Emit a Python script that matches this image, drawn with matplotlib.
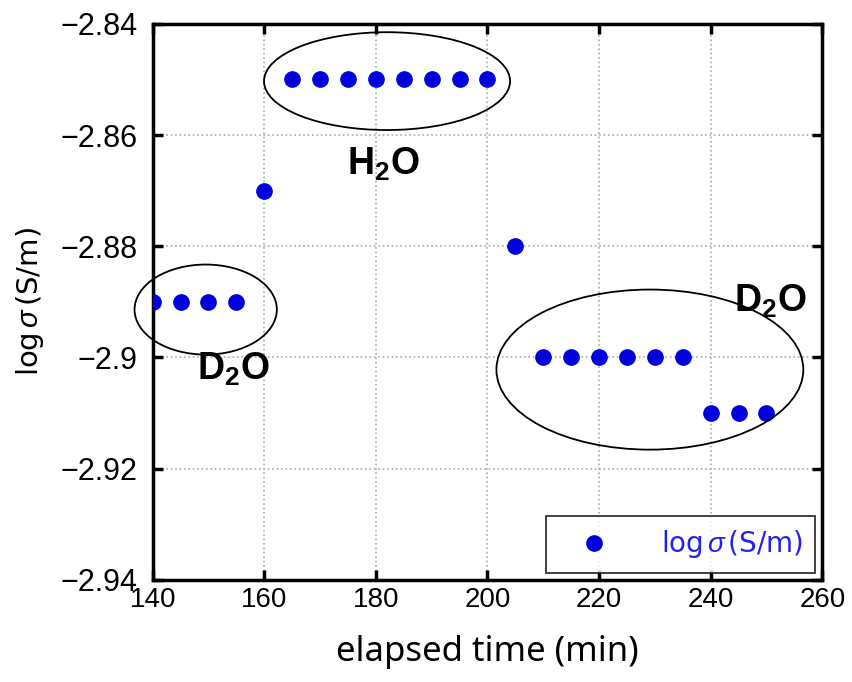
import numpy as np
import matplotlib.pyplot as plt
from matplotlib.patches import Ellipse

# measured log conductivity vs elapsed time
time_min = [140, 145, 150, 155, 160, 165, 170, 175, 180, 185, 190, 195, 200,
            205, 210, 215, 220, 225, 230, 235, 240, 245, 250]
log_sigma = [-2.89, -2.89, -2.89, -2.89, -2.87, -2.85, -2.85, -2.85, -2.85,
             -2.85, -2.85, -2.85, -2.85, -2.88, -2.90, -2.90, -2.90, -2.90,
             -2.90, -2.90, -2.91, -2.91, -2.91]

x_ticks = [140, 160, 180, 200, 220, 240, 260]
y_ticks = [-2.84, -2.86, -2.88, -2.90, -2.92, -2.94]
y_tick_labels = ['\u22122.84', '\u22122.86', '\u22122.88', '\u22122.9', '\u22122.92', '\u22122.94']

plt.rcParams['mathtext.fontset'] = 'custom'
plt.rcParams['mathtext.rm'] = 'Liberation Sans'
plt.rcParams['mathtext.it'] = 'Liberation Sans:italic'
plt.rcParams['mathtext.bf'] = 'Liberation Sans:bold'
plt.rcParams['font.family'] = ['Liberation Sans', 'DejaVu Sans']

fig = plt.figure(figsize=(8.53, 6.82), dpi=100)
ax = fig.add_axes([0.179, 0.150, 0.785, 0.815])

ax.plot(time_min, log_sigma, 'o', color='#0000dd', markersize=11,
        label=r'log$\,\mathit{\sigma}\,$(S/m)', zorder=3)

ax.set_xlim(140, 260)
ax.set_ylim(-2.94, -2.84)
ax.set_xticks(x_ticks, [str(t) for t in x_ticks])
ax.set_yticks(y_ticks, y_tick_labels)
ax.tick_params(direction='in', length=7, width=2.5, top=True, right=True, labelsize=20)
ax.tick_params(axis='y', pad=11, labelsize=22)
ax.tick_params(axis='x', pad=5)
for s in ax.spines.values():
    s.set_linewidth(2.5)
ax.grid(True, linestyle=':', color='#aaaaaa', linewidth=1.2)

ax.set_xlabel('elapsed time (min)', fontsize=25, family='Noto Sans', labelpad=16)
ax.set_ylabel(r'log$\,\mathit{\sigma}\,$(S/m)', fontsize=21, family='DejaVu Sans', labelpad=10)

# group outlines
ax.add_patch(Ellipse((182, -2.8503), 44.1, 0.0176, fill=False, edgecolor='black', linewidth=1.3, zorder=4))
ax.add_patch(Ellipse((149.5, -2.8914), 25.5, 0.0162, fill=False, edgecolor='black', linewidth=1.3,
                     clip_on=False, zorder=4))
ax.add_patch(Ellipse((229.1, -2.9022), 55.0, 0.0288, fill=False, edgecolor='black', linewidth=1.3, zorder=4))

group_kw = dict(fontsize=27, ha='center', va='baseline')
ax.text(181.4, -2.8672, r'$\mathbf{H_2O}$', **group_kw)
ax.text(154.5, -2.9040, r'$\mathbf{D_2O}$', **group_kw)
ax.text(250.7, -2.8918, r'$\mathbf{D_2O}$', **group_kw)

leg = ax.legend(loc='lower right', labelcolor='#2222ee', frameon=True, fancybox=False,
                edgecolor='black', borderaxespad=0.25, handletextpad=1.1, borderpad=0.45,
                handlelength=2.6, prop={'family': 'DejaVu Sans', 'size': 20})
leg.get_frame().set_linewidth(1.3)

plt.savefig('out.png', dpi=100)
